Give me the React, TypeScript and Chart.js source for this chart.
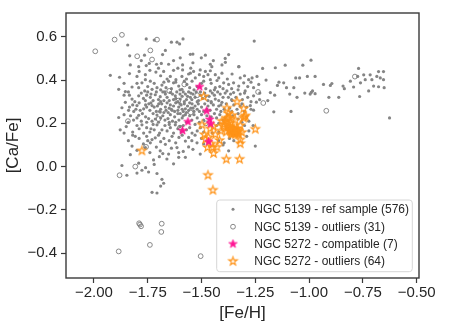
import React, { useEffect, useRef } from 'react';
import { Chart, registerables } from 'chart.js';
Chart.register(...registerables);

const FONT = '"Liberation Sans", Arial, sans-serif';
const TEXT = '#262626';

const xTickValues = [-2.0, -1.75, -1.5, -1.25, -1.0, -0.75, -0.5];
const yTickValues = [-0.4, -0.2, 0.0, 0.2, 0.4, 0.6];
const xTitle = '[Fe/H]';
const yTitle = '[Ca/Fe]';
const legendLabels = [
  'NGC 5139 - ref sample (576)',
  'NGC 5139 - outliers (31)',
  'NGC 5272 - compatible (7)',
  'NGC 5272 - outliers (64)',
];

// NGC 5139 reference sample ([Fe/H], [Ca/Fe])
const refSample: [number, number][] = [
  [-1.757,0.590],[-1.586,0.590],[-1.614,0.575],[-1.602,0.567],[-1.843,0.562],[-1.255,0.580],[-1.72,0.585],[-1.64,0.575],
  [-1.668,0.537],[-1.681,0.518],[-1.834,0.512],[-1.765,0.515],[-1.552,0.519],[-1.599,0.503],[-1.482,0.515],[-1.501,0.503],
  [-1.374,0.518],[-1.831,0.470],[-1.757,0.467],[-1.792,0.462],[-1.743,0.477],[-1.709,0.473],[-1.687,0.477],[-1.653,0.473],
  [-1.588,0.470],[-1.459,0.473],[-1.452,0.462],[-1.405,0.470],[-1.389,0.482],[-1.327,0.462],[-1.54,0.52],[-1.63,0.49],
  [-1.78,0.49],[-1.54,0.48],[-1.39,0.50],[-1.445,0.49],[-1.70,0.455],[-1.61,0.455],
  [-1.588,0.447],[-1.552,0.432],[-1.924,0.422],[-1.881,0.413],[-1.800,0.417],[-1.761,0.425],[-1.712,0.437],[-1.676,0.440],
  [-1.645,0.417],[-1.619,0.402],[-1.591,0.417],[-1.560,0.428],[-1.537,0.440],[-1.506,0.447],[-1.482,0.440],[-1.459,0.443],
  [-1.436,0.425],[-1.405,0.432],[-1.358,0.428],[-1.761,0.402],[-1.529,0.410],[-1.490,0.417],[-1.459,0.402],[-1.242,0.417],
  [-1.265,0.410],[-1.281,0.402],[-1.30,0.42],[-1.32,0.41],[-1.74,0.445],[-1.79,0.44],[-1.66,0.405],[-1.69,0.42],
  [-1.57,0.405],[-1.51,0.425],[-1.42,0.41],[-1.38,0.405],[-1.835,0.43],[-1.63,0.445],[-1.47,0.425],[-1.55,0.455],
  [-1.738,0.395],[-1.777,0.387],[-1.885,0.357],[-1.854,0.347],[-1.823,0.368],[-1.792,0.365],[-1.764,0.350],[-1.730,0.357],
  [-1.707,0.365],[-1.684,0.377],[-1.653,0.395],[-1.630,0.387],[-1.606,0.372],[-1.591,0.357],[-1.568,0.380],[-1.544,0.395],
  [-1.428,0.398],[-1.397,0.387],[-1.374,0.380],[-1.351,0.387],[-1.327,0.372],[-1.304,0.387],[-1.234,0.380],[-1.258,0.365],
  [-1.297,0.350],[-1.382,0.350],[-1.436,0.365],[-1.459,0.350],[-1.72,0.385],[-1.69,0.355],[-1.665,0.365],[-1.64,0.36],
  [-1.62,0.39],[-1.58,0.395],[-1.555,0.365],[-1.52,0.37],[-1.50,0.385],[-1.48,0.36],[-1.455,0.385],[-1.415,0.37],
  [-1.36,0.36],[-1.285,0.37],[-1.80,0.385],[-1.75,0.37],[-1.86,0.385],[-1.675,0.39],[-1.60,0.355],[-1.535,0.355],
  [-1.49,0.395],[-1.44,0.355],[-1.40,0.36],[-1.33,0.355],[-1.27,0.39],
  [-1.320,0.335],[-1.351,0.342],[-1.413,0.335],[-1.552,0.320],[-1.575,0.335],[-1.599,0.312],[-1.622,0.327],[-1.645,0.342],
  [-1.668,0.335],[-1.692,0.323],[-1.715,0.332],[-1.738,0.320],[-1.761,0.305],[-1.792,0.327],[-1.823,0.312],[-1.514,0.305],
  [-1.436,0.312],[-1.358,0.305],[-1.258,0.327],[-1.86,0.33],[-1.84,0.345],[-1.81,0.30],[-1.78,0.34],[-1.77,0.315],
  [-1.75,0.345],[-1.725,0.305],[-1.71,0.345],[-1.70,0.31],[-1.68,0.345],[-1.675,0.305],[-1.66,0.32],[-1.65,0.305],
  [-1.635,0.335],[-1.63,0.31],[-1.615,0.345],[-1.61,0.30],[-1.59,0.325],[-1.585,0.345],[-1.57,0.31],[-1.565,0.325],
  [-1.56,0.345],[-1.545,0.31],[-1.54,0.335],[-1.53,0.32],[-1.525,0.345],[-1.505,0.33],[-1.495,0.315],[-1.485,0.34],
  [-1.47,0.305],[-1.465,0.325],[-1.45,0.34],[-1.44,0.33],[-1.425,0.345],[-1.42,0.305],[-1.40,0.32],[-1.39,0.34],
  [-1.375,0.32],[-1.365,0.335],[-1.34,0.32],[-1.31,0.31],[-1.30,0.34],[-1.285,0.32],[-1.27,0.30],[-1.735,0.335],
  [-1.755,0.33],[-1.69,0.30],[-1.60,0.335],[-1.58,0.30],[-1.52,0.30],[-1.48,0.325],[-1.455,0.30],[-1.67,0.345],
  [-1.62,0.315],[-1.55,0.34],[-1.505,0.345],[-1.835,0.33],
  [-1.870,0.272],[-1.839,0.260],[-1.800,0.282],[-1.769,0.267],[-1.730,0.282],[-1.699,0.290],[-1.668,0.275],[-1.637,0.260],
  [-1.606,0.275],[-1.575,0.267],[-1.544,0.290],[-1.405,0.297],[-1.312,0.290],[-1.273,0.282],[-1.245,0.298],[-1.258,0.261],
  [-1.854,0.297],[-1.82,0.285],[-1.815,0.255],[-1.79,0.295],[-1.785,0.26],[-1.76,0.285],[-1.745,0.29],[-1.74,0.26],
  [-1.72,0.275],[-1.71,0.255],[-1.69,0.265],[-1.685,0.29],[-1.675,0.25],[-1.66,0.295],[-1.65,0.27],[-1.645,0.285],
  [-1.63,0.28],[-1.625,0.255],[-1.62,0.295],[-1.61,0.26],[-1.595,0.285],[-1.59,0.265],[-1.585,0.255],[-1.58,0.29],
  [-1.565,0.28],[-1.56,0.26],[-1.555,0.295],[-1.55,0.27],[-1.535,0.255],[-1.53,0.28],[-1.52,0.265],[-1.515,0.29],
  [-1.50,0.275],[-1.49,0.255],[-1.485,0.29],[-1.47,0.28],[-1.46,0.26],[-1.445,0.285],[-1.43,0.265],[-1.42,0.28],
  [-1.395,0.265],[-1.385,0.29],[-1.37,0.27],[-1.35,0.285],[-1.335,0.265],[-1.32,0.28],[-1.30,0.255],[-1.29,0.275],
  [-1.27,0.265],[-1.835,0.275],[-1.805,0.265],[-1.755,0.275],[-1.735,0.295],[-1.705,0.28],[-1.695,0.255],[-1.665,0.26],
  [-1.655,0.25],[-1.64,0.265],[-1.60,0.29],[-1.57,0.25],[-1.54,0.27],[-1.51,0.255],[-1.475,0.265],[-1.455,0.295],
  [-1.41,0.255],[-1.36,0.255],
  [-1.885,0.227],[-1.816,0.215],[-1.792,0.237],[-1.746,0.222],[-1.707,0.238],[-1.692,0.252],[-1.656,0.222],[-1.599,0.245],
  [-1.312,0.205],[-1.86,0.24],[-1.84,0.205],[-1.83,0.235],[-1.80,0.225],[-1.78,0.21],[-1.775,0.245],[-1.76,0.23],
  [-1.73,0.21],[-1.725,0.245],[-1.715,0.22],[-1.70,0.205],[-1.68,0.235],[-1.67,0.215],[-1.645,0.24],[-1.635,0.21],
  [-1.625,0.23],[-1.61,0.245],[-1.605,0.215],[-1.59,0.225],[-1.575,0.24],[-1.57,0.205],[-1.555,0.235],[-1.545,0.215],
  [-1.535,0.24],[-1.52,0.225],[-1.51,0.205],[-1.50,0.24],[-1.49,0.215],[-1.475,0.235],[-1.44,0.245],[-1.43,0.225],
  [-1.415,0.24],[-1.40,0.215],[-1.38,0.24],[-1.355,0.235],[-1.33,0.245],[-1.29,0.23],[-1.28,0.21],[-1.755,0.205],
  [-1.69,0.225],[-1.65,0.205],[-1.62,0.205],[-1.585,0.235],[-1.455,0.23],[-1.39,0.225],
  [-1.878,0.170],[-1.777,0.193],[-1.769,0.155],[-1.707,0.193],[-1.684,0.170],[-1.622,0.193],[-1.544,0.155],[-1.85,0.185],
  [-1.82,0.16],[-1.80,0.19],[-1.79,0.175],[-1.755,0.18],[-1.74,0.16],[-1.725,0.195],[-1.72,0.17],[-1.695,0.155],
  [-1.67,0.19],[-1.66,0.165],[-1.645,0.18],[-1.63,0.155],[-1.61,0.175],[-1.595,0.16],[-1.585,0.19],[-1.57,0.17],
  [-1.555,0.18],[-1.53,0.195],[-1.52,0.165],[-1.505,0.18],[-1.49,0.16],[-1.43,0.19],[-1.42,0.16],[-1.28,0.165],
  [-1.26,0.19],[-1.86,0.155],[-1.735,0.175],[-1.65,0.195],[-1.60,0.185],
  [-1.808,0.140],[-1.738,0.110],[-1.715,0.133],[-1.668,0.103],[-1.637,0.140],[-1.575,0.118],[-1.521,0.110],[-1.84,0.12],
  [-1.82,0.145],[-1.79,0.13],[-1.77,0.105],[-1.755,0.14],[-1.73,0.125],[-1.70,0.145],[-1.69,0.115],[-1.675,0.13],
  [-1.65,0.12],[-1.62,0.11],[-1.605,0.135],[-1.59,0.145],[-1.56,0.135],[-1.545,0.12],[-1.53,0.145],[-1.50,0.13],
  [-1.49,0.105],[-1.395,0.11],[-1.42,0.12],[-1.35,0.12],[-1.29,0.14],[-1.75,0.12],
  [-1.831,0.055],[-1.870,0.005],[-1.792,0.016],[-1.723,0.031],[-1.696,0.046],[-1.661,0.035],[-1.630,0.013],[-1.653,0.058],
  [-1.606,0.065],[-1.575,0.043],[-1.374,0.073],[-1.692,0.073],[-1.606,0.043],[-1.761,0.088],[-1.823,0.095],[-1.614,0.088],
  [-1.560,0.091],[-1.506,0.058],[-1.250,0.095],[-1.80,0.075],[-1.74,0.065],[-1.71,0.09],[-1.68,0.06],[-1.64,0.085],
  [-1.72,0.01],[-1.585,0.07],[-1.54,0.08],
  [-1.847,-0.040],[-1.777,-0.017],[-1.746,-0.025],[-1.707,-0.032],[-1.684,-0.059],[-1.676,-0.077],[-1.730,-0.119],[-1.707,-0.122],
  [-1.80,-0.03],[-1.69,-0.09],[-1.76,-0.005],
  [-1.326,0.462],[-1.216,0.454],[-1.157,0.457],[-1.111,0.469],[-1.029,0.469],[-0.991,0.492],[-1.147,0.375],[-1.118,0.387],
  [-1.105,0.365],[-1.062,0.410],[-1.044,0.410],[-1.071,0.365],[-1.090,0.335],[-1.056,0.320],[-1.084,0.255],[-1.160,0.330],
  [-1.180,0.342],[-1.164,0.253],[-1.192,0.305],[-1.229,0.340],[-1.008,0.417],[-0.972,0.417],[-0.984,0.350],[-0.995,0.335],
  [-0.990,0.343],[-0.972,0.337],[-0.933,0.380],[-0.901,0.375],[-0.908,0.320],[-0.862,0.320],[-0.842,0.372],[-0.836,0.360],
  [-0.774,0.417],[-0.761,0.387],[-0.765,0.324],[-0.770,0.454],[-0.746,0.424],[-0.739,0.402],[-0.723,0.350],[-0.716,0.424],
  [-0.708,0.402],[-0.700,0.372],[-0.685,0.417],[-0.677,0.439],[-0.677,0.369],[-0.669,0.410],[-0.654,0.439],[-0.654,0.402],
  [-0.651,0.365],[-0.626,0.225],[-0.793,0.368],[-0.808,0.395],[-0.894,0.384],[-1.14,0.39],[-1.20,0.40],[-1.23,0.31],
  [-1.02,0.34],
  [-1.42,0.20],[-1.41,0.285],[-1.36,0.31],[-1.33,0.22],[-1.37,0.13],[-1.30,0.19],[-1.45,0.155],[-1.40,0.10],
];

// NGC 5139 outliers
const refOutliers: [number, number][] = [
  [-1.994,0.533],[-1.904,0.587],[-1.870,0.609],[-1.707,0.587],[-1.799,0.510],[-1.738,0.537],[-1.730,0.495],[-1.842,0.210],
  [-1.758,0.091],[-1.808,0.000],[-1.881,-0.040],[-1.790,-0.262],[-1.781,-0.276],[-1.786,-0.268],[-1.685,-0.264],[-1.687,-0.302],
  [-1.740,-0.362],[-1.885,-0.392],[-1.504,-0.414],[-1.213,0.294],[-0.920,0.258],[-0.787,0.416],[-1.608,0.305],[-1.55,0.25],
  [-1.70,0.22],[-1.52,0.33],[-1.237,0.345],[-1.60,0.18],[-1.65,0.35],[-1.48,0.20],[-1.58,0.38],
];

// NGC 5272 compatible
const compatible: [number, number][] = [
  [-1.509,0.369],[-1.476,0.257],[-1.462,0.218],[-1.563,0.207],[-1.588,0.166],[-1.467,0.115],[-1.458,0.198],
];

// NGC 5272 outliers
const clusterOutliers: [number, number][] = [
  [-1.490,0.324],[-1.382,0.270],[-1.335,0.300],[-1.304,0.268],[-1.300,0.230],[-1.250,0.173],[-1.405,0.210],[-1.382,0.223],
  [-1.358,0.237],[-1.343,0.215],[-1.320,0.190],[-1.366,0.178],[-1.352,0.170],[-1.397,0.185],[-1.444,0.185],[-1.498,0.193],
  [-1.487,0.148],[-1.467,0.135],[-1.436,0.148],[-1.416,0.121],[-1.428,0.090],[-1.447,0.088],[-1.472,0.088],[-1.444,0.061],
  [-1.320,0.124],[-1.320,0.106],[-1.312,0.158],[-1.385,0.034],[-1.323,0.034],[-1.470,-0.040],[-1.447,-0.109],[-1.777,0.073],
  [-1.355,0.165],[-1.350,0.160],[-1.345,0.155],[-1.340,0.162],[-1.335,0.168],[-1.360,0.158],[-1.348,0.172],[-1.342,0.150],
  [-1.338,0.158],[-1.352,0.153],[-1.365,0.165],[-1.330,0.160],[-1.346,0.165],[-1.357,0.175],[-1.336,0.175],[-1.370,0.172],
  [-1.328,0.150],[-1.362,0.150],[-1.390,0.210],[-1.378,0.200],[-1.372,0.225],[-1.395,0.195],[-1.410,0.165],[-1.375,0.245],
  [-1.365,0.205],[-1.385,0.160],[-1.372,0.185],[-1.305,0.225],[-1.296,0.235],[-1.460,0.175],[-1.482,0.125],[-1.455,0.105],
];

const GRAY_DOT = '#858585';
const GRAY_RING = '#7c7c7c';
const MAGENTA = '#ff1493';
const ORANGE = '#ff9318';

function makeStar(r: number, fill: string | null, stroke: string | null, lw: number): HTMLCanvasElement {
  const size = Math.ceil(2 * (r + lw + 1));
  const c = document.createElement('canvas');
  c.width = size;
  c.height = size;
  const g = c.getContext('2d')!;
  const cx = size / 2, cy = size / 2;
  g.beginPath();
  for (let i = 0; i < 10; i++) {
    const rad = i % 2 === 0 ? r : r * 0.382;
    const a = -Math.PI / 2 + (i * Math.PI) / 5;
    const px = cx + rad * Math.cos(a);
    const py = cy + rad * Math.sin(a);
    if (i === 0) g.moveTo(px, py); else g.lineTo(px, py);
  }
  g.closePath();
  if (fill) { g.fillStyle = fill; g.fill(); }
  if (stroke) { g.strokeStyle = stroke; g.lineWidth = lw; g.lineJoin = 'miter'; g.stroke(); }
  return c;
}

const fmt = (v: number, d: number) => {
  if (Math.abs(v) < 1e-9) return (0).toFixed(d);
  return (v < 0 ? '\u2212' : '') + Math.abs(v).toFixed(d);
};

export default function App() {
  const ref = useRef<HTMLCanvasElement>(null);

  useEffect(() => {
    if (!ref.current) return;
    const magStar = makeStar(4.4, MAGENTA, MAGENTA, 0.8);
    const orStar = makeStar(4.4, null, ORANGE, 1.1);

    const toPts = (a: [number, number][]) => a.map(([x, y]) => ({ x, y }));

    const overlay = {
      id: 'overlay',
      afterDraw(chart: any) {
        const { ctx, chartArea: a } = chart;
        ctx.save();
        ctx.strokeStyle = '#3a3a3a';
        ctx.lineWidth = 1.4;
        ctx.strokeRect(a.left, a.top, a.right - a.left, a.bottom - a.top);
        const w = 195.6, h = 71.7;
        const bx = a.right - 6.7 - w;
        const by = a.bottom - 6.3 - h;
        ctx.beginPath();
        const r = 3;
        ctx.moveTo(bx + r, by);
        ctx.lineTo(bx + w - r, by);
        ctx.arcTo(bx + w, by, bx + w, by + r, r);
        ctx.lineTo(bx + w, by + h - r);
        ctx.arcTo(bx + w, by + h, bx + w - r, by + h, r);
        ctx.lineTo(bx + r, by + h);
        ctx.arcTo(bx, by + h, bx, by + h - r, r);
        ctx.lineTo(bx, by + r);
        ctx.arcTo(bx, by, bx + r, by, r);
        ctx.closePath();
        ctx.fillStyle = 'rgba(255,255,255,0.8)';
        ctx.fill();
        ctx.strokeStyle = '#d6d6d6';
        ctx.lineWidth = 1;
        ctx.stroke();

        const mx = bx + 16.3;
        const tx = bx + 37.6;
        const rows = [9.3, 26.7, 44.0, 61.3];
        ctx.fillStyle = GRAY_DOT;
        ctx.beginPath();
        ctx.arc(mx, by + rows[0], 1.5, 0, Math.PI * 2);
        ctx.fill();
        ctx.strokeStyle = GRAY_RING;
        ctx.lineWidth = 0.9;
        ctx.beginPath();
        ctx.arc(mx, by + rows[1], 2.4, 0, Math.PI * 2);
        ctx.stroke();
        ctx.drawImage(magStar, mx - magStar.width / 2, by + rows[2] - magStar.height / 2);
        ctx.drawImage(orStar, mx - orStar.width / 2, by + rows[3] - orStar.height / 2);
        ctx.fillStyle = TEXT;
        ctx.font = '12px ' + FONT;
        ctx.textBaseline = 'middle';
        ctx.textAlign = 'left';
        legendLabels.forEach((t, i) => ctx.fillText(t, tx, by + rows[i] + 0.5));
        ctx.restore();
      },
    };

    const chart = new Chart(ref.current, {
      type: 'scatter',
      data: {
        datasets: [
          {
            label: legendLabels[0],
            data: toPts(refSample),
            pointStyle: 'circle',
            pointRadius: 1.6,
            pointBorderWidth: 0,
            backgroundColor: GRAY_DOT,
            borderColor: GRAY_DOT,
            order: 4,
          },
          {
            label: legendLabels[1],
            data: toPts(refOutliers),
            pointStyle: 'circle',
            pointRadius: 2.4,
            pointBorderWidth: 0.9,
            backgroundColor: 'rgba(0,0,0,0)',
            borderColor: GRAY_RING,
            order: 3,
          },
          {
            label: legendLabels[2],
            data: toPts(compatible),
            pointStyle: magStar as any,
            backgroundColor: MAGENTA,
            borderColor: MAGENTA,
            order: 1,
          },
          {
            label: legendLabels[3],
            data: toPts(clusterOutliers),
            pointStyle: orStar as any,
            backgroundColor: ORANGE,
            borderColor: ORANGE,
            order: 2,
          },
        ],
      },
      options: {
        animation: false,
        responsive: false,
        devicePixelRatio: 1,
        layout: { padding: { top: 5, right: 30, left: 0, bottom: 0 } },
        plugins: { legend: { display: false }, tooltip: { enabled: false } },
        scales: {
          x: {
            type: 'linear',
            min: -2.13,
            max: -0.489,
            afterFit: (s: any) => { s.height = 57; },
            afterBuildTicks: (s: any) => { s.ticks = xTickValues.map((v) => ({ value: v })); },
            ticks: {
              includeBounds: false,
              padding: 1,
              color: TEXT,
              font: { family: FONT, size: 15 },
              maxRotation: 0,
              callback: (v: any) => fmt(Number(v), 2),
            },
            grid: { display: true, drawOnChartArea: false, drawTicks: true, tickLength: 5, tickColor: '#3a3a3a', tickWidth: 1.2 },
            border: { display: false },
            title: { display: true, text: xTitle, color: TEXT, font: { family: FONT, size: 17 }, padding: { top: 0, bottom: 11 } },
          },
          y: {
            type: 'linear',
            min: -0.515,
            max: 0.71,
            afterFit: (s: any) => { s.width = 66; },
            afterBuildTicks: (s: any) => { s.ticks = yTickValues.map((v) => ({ value: v })); },
            ticks: {
              includeBounds: false,
              padding: 4,
              color: TEXT,
              font: { family: FONT, size: 15 },
              callback: (v: any) => fmt(Number(v), 1),
            },
            grid: { display: true, drawOnChartArea: false, drawTicks: true, tickLength: 5, tickColor: '#3a3a3a', tickWidth: 1.2 },
            border: { display: false },
            title: { display: true, text: yTitle, color: TEXT, font: { family: FONT, size: 17 }, padding: { top: 3, bottom: 0 } },
          },
        },
      },
      plugins: [overlay],
    });
    return () => chart.destroy();
  }, []);

  return (
    <div style={{ position: 'absolute', left: 0, top: 0, width: 449, height: 335, background: '#fff' }}>
      <canvas ref={ref} width={449} height={335} style={{ display: 'block', width: 449, height: 335 }} />
    </div>
  );
}
